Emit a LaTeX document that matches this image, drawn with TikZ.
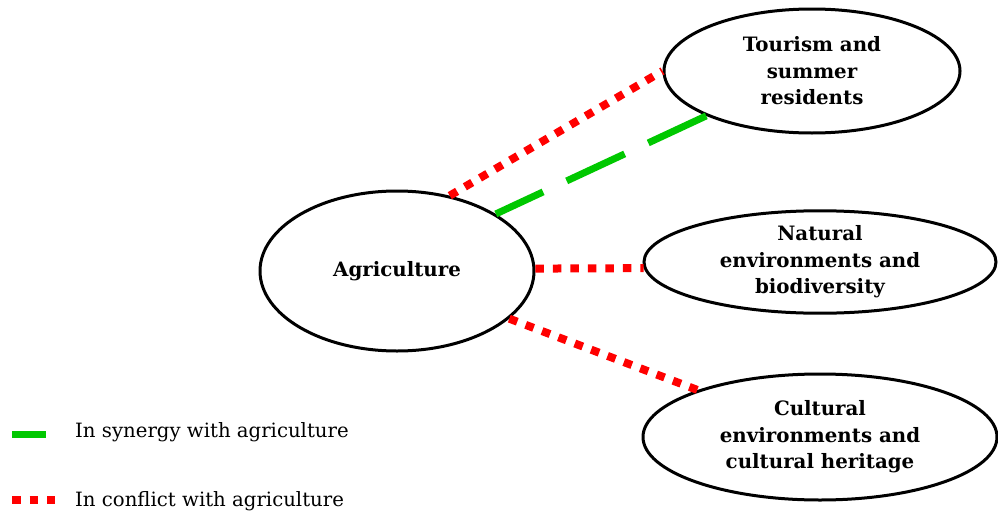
\documentclass[tikz,border=0pt]{standalone}
\usepackage{fontspec}
\setmainfont{DejaVu Serif}
\usetikzlibrary{shapes.geometric}
\definecolor{synG}{RGB}{0,200,0}
\definecolor{conR}{RGB}{255,0,0}
\tikzset{
  oval/.style={ellipse, draw=black, line width=3pt, inner sep=0pt, align=center,
    font=\fontsize{19.8}{26.5}\selectfont\bfseries},
  conflict/.style={draw=conR, line width=8pt, dash pattern=on 8.5pt off 9pt},
  synergy/.style={draw=synG, line width=7pt, dash pattern=on 64pt off 26pt},
  legtext/.style={anchor=west, inner sep=0pt, font=\fontsize{19.7}{22}\selectfont}
}
\begin{document}
\begin{tikzpicture}[x=1pt,y=-1pt]
\useasboundingbox (0,0) rectangle (998,514);
\node[oval, minimum width=274pt, minimum height=160pt] (agri) at (397,271) {Agriculture};
\node[oval, minimum width=296pt, minimum height=124pt] (tour) at (812,71) {Tourism and\\summer\\residents};
\node[oval, minimum width=352pt, minimum height=100pt] (nat) at (820,262) {Natural\\environments and\\biodiversity};
\node[oval, minimum width=354pt, minimum height=126pt] (cult) at (820,437) {Cultural\\environments and\\cultural heritage};
\draw[conflict] (agri.55) -- (tour.180);
\draw[synergy] (tour.203) -- (agri.30);
\draw[conflict] (agri.1) -- (nat.182);
\draw[conflict] (agri.-23) -- (cult.159);
% legend
\coordinate (gA) at (12,434);
\coordinate (gB) at (46,434);
\draw[synG, line width=7pt] (gA) -- (gB);
\node[legtext] (lsyn) at (75,432) {In synergy with agriculture};
\coordinate (rA) at (12,500);
\coordinate (rB) at (55,500);
\draw[conflict] (rA) -- (rB);
\node[legtext] (lcon) at (75,501) {In conflict with agriculture};
\end{tikzpicture}
\end{document}
